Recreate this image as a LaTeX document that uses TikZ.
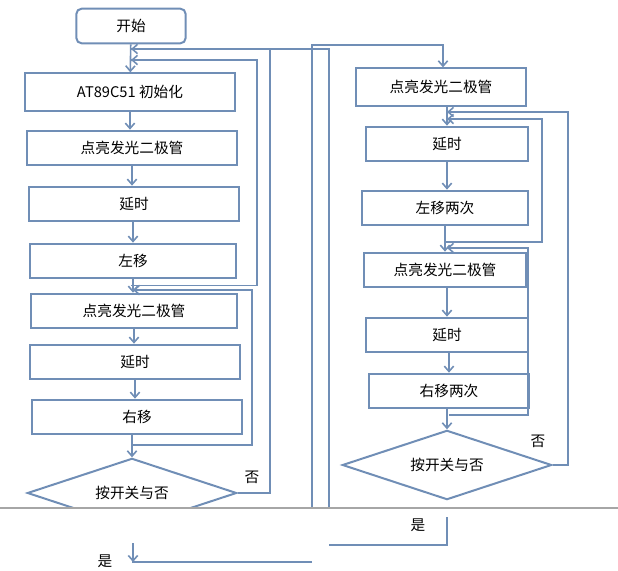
\documentclass[tikz,border=0pt]{standalone}
\usepackage{fontspec}
\setmainfont{Noto Sans CJK SC}
\usetikzlibrary{shapes.geometric,arrows.meta}
\definecolor{lc}{RGB}{112,142,182}
\tikzset{
  box/.style={draw=lc, line width=1.5pt, minimum height=26pt, inner sep=0pt, font=\fontsize{11pt}{13pt}\selectfont},
  dia/.style={draw=lc, line width=1.5pt, diamond, aspect=3, minimum width=157pt, minimum height=52pt, inner sep=0pt, font=\fontsize{11pt}{13pt}\selectfont},
  ar/.style={draw=lc, line width=1.2pt, ->, >={Straight Barb[length=4pt,width=7pt]}},
  ln/.style={draw=lc, line width=1.2pt},
  lab/.style={font=\fontsize{11pt}{13pt}\selectfont}
}
\begin{document}
\begin{tikzpicture}[x=0.75pt,y=-0.75pt]
		\useasboundingbox (0,0) rectangle (618,571);
		% 左边一列
		\node[box, rounded corners=4pt, minimum width=82pt] (start) at (131,26) {开始};
		\node[box, minimum width=157pt, minimum height=28pt] (init) at (130,92) {AT89C51 初始化};
		\node[box, minimum width=157pt] (ledA) at (132,148) {点亮发光二极管};
		\node[box, minimum width=157pt] (delA) at (134,204) {延时};
		\node[box, minimum width=155pt] (lsh) at (133,261) {左移};
		\node[box, minimum width=155pt] (ledB) at (134,311) {点亮发光二极管};
		\node[box, minimum width=157pt] (delB) at (135,362) {延时};
		\node[box, minimum width=157pt] (rsh) at (137,417) {右移};
		\begin{scope}
			\clip (0,0) rectangle (618,508);
			\node[dia] (keyA) at (132,493) {按开关与否};
			\node[dia] (keyB) at (447,465) {按开关与否};
		\end{scope}
		% 右边一列
		\node[box, minimum width=128pt, minimum height=28pt] (ledC) at (441,87) {点亮发光二极管};
		\node[box, minimum width=122pt] (delC) at (447,144) {延时};
		\node[box, minimum width=125pt] (lsh2) at (445,208) {左移两次};
		\node[box, minimum width=122pt] (ledD) at (445,270) {点亮发光二极管};
		\node[box, minimum width=122pt] (delD) at (447,335) {延时};
		\node[box, minimum width=120pt] (rsh2) at (449,391) {右移两次};
		% 文字
		\node[lab] (noA) at (252,477) {否};
		\node[lab] (noB) at (538,441) {否};
		\node[lab] (yesB) at (418,525) {是};
		\node[lab] (yesA) at (105,561) {是};
		% 顺序箭头
		\draw[ar] (start) -- (init);
		\draw[ar] (init) -- (init.south |- ledA.north);
		\draw[ar] (ledA.south) -- (ledA.south |- delA.north);
		\draw[ar] (delA.south -| lsh) -- (lsh.north);
		\draw[ar] (lsh) -- (lsh.south |- ledB.north);
		\draw[ar] (ledB) -- (ledB.south |- delB.north);
		\draw[ar] (delB) -- (delB.south |- rsh.north);
		\draw[ar] (rsh.south -| keyA.north) -- (keyA.north);
		\draw[ar] (ledC.south -| delC) -- (delC.north);
		\draw[ar] (delC) -- (delC.south |- lsh2.north);
		\draw[ar] (lsh2.south -| ledD.north) -- (ledD.north);
		\draw[ar] (ledD.south -| delD) -- (delD.north);
		\draw[ar] (delD.south -| rsh2) -- (rsh2.north);
		\draw[ar] (rsh2.south -| keyB.north) -- (keyB.north);
		% 回路
		\coordinate (c1) at (131,60);
		\coordinate (c2) at (131,49);
		\coordinate (c3) at (133,290);
		\draw[ln] (lsh.south -| c1) ++(0,6) -- ++(126,0) |- (c1);
		\draw[ar] (257,60) -- (c1);
		\draw[ln] (keyA.east) -- (270,493) |- (c2);
		\draw[ar] (180,49) -- (c2);
		\draw[ln] (133,445) -- (252,445) |- (c3);
		\draw[ar] (200,290) -- (c3);
		\draw[ln] (329,508) |- (268,49);
		\draw[ar] (312,508) |- (443,45) -- (ledC.north -| 443,0);
		\coordinate (c4) at (447,112);
		\coordinate (c5) at (447,119);
		\coordinate (c6) at (447,248);
		\draw[ar] (keyB.east) -| (568,112) -- (c4);
		\draw[ar] (445,242) -| (542,119) -- (c5);
		\draw[ar] (449,415) -| (528,248) -- (c6);
		% 分页线
		\draw[gray!70, line width=1pt] (0,508) -- (618,508);
		% 下一页
		\coordinate (c7) at (329,545);
		\coordinate (c8) at (133,562);
		\draw[ln] (447,517) |- (c7);
		\draw[ar] (312,562) -| (133,543) -- (c8);
	\end{tikzpicture}
\end{document}
